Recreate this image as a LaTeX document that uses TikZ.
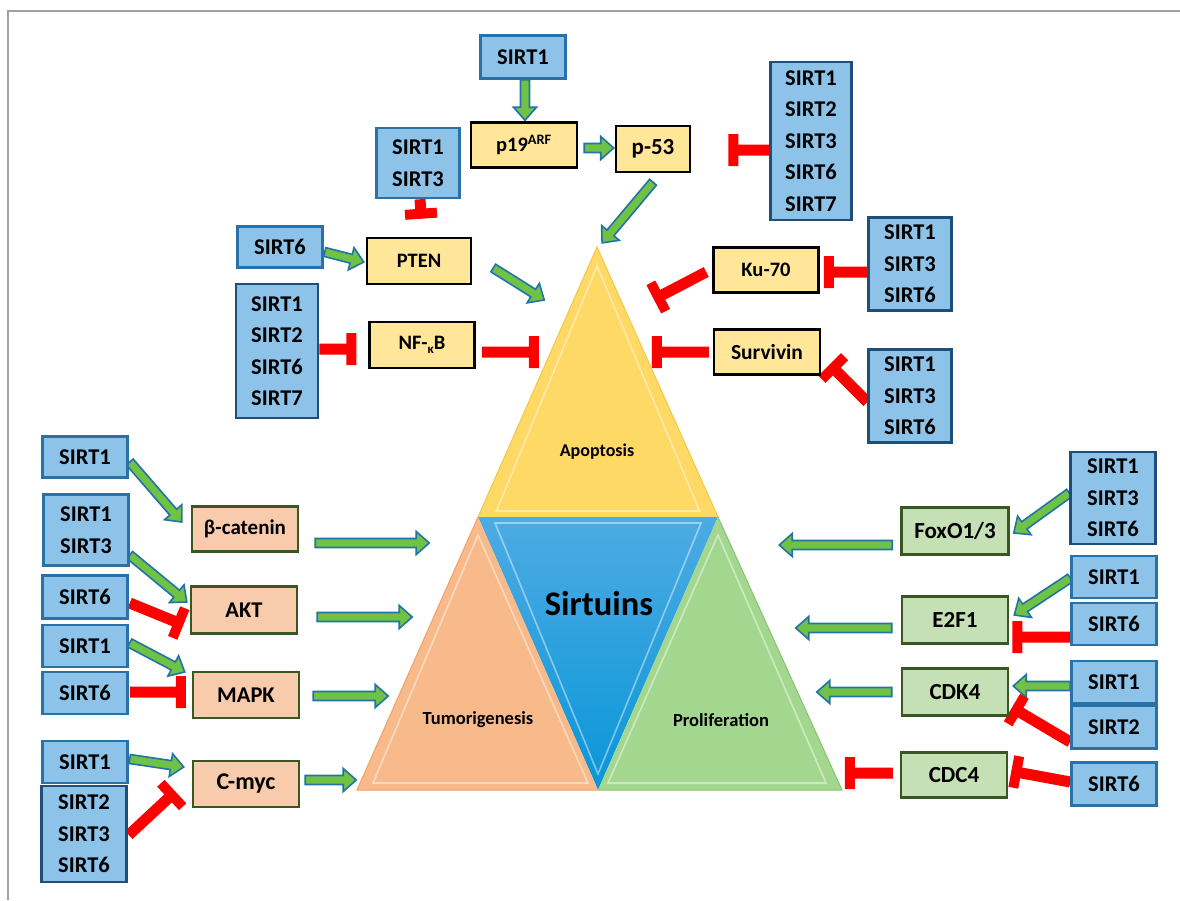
\documentclass[tikz,border=0pt]{standalone}
\usepackage{fontspec}
\setmainfont{Carlito}
\usetikzlibrary{calc}
\definecolor{sfill}{HTML}{8DC3E9}
\definecolor{sbord}{HTML}{2A71A8}
\definecolor{sbordd}{HTML}{1F4E79}
\definecolor{yfill}{HTML}{FFE699}
\definecolor{ofill}{HTML}{F8CBAD}
\definecolor{gfill}{HTML}{C5E0B4}
\definecolor{dgreen}{HTML}{385723}
\definecolor{arrgreen}{HTML}{70C244}
\definecolor{arrblue}{HTML}{2273A8}
\definecolor{inhred}{HTML}{FF0000}
\definecolor{tyel}{HTML}{FFD966}
\definecolor{tyelE}{HTML}{F5C843}
\definecolor{tblueT}{HTML}{4EABE3}
\definecolor{tblueB}{HTML}{0896D8}
\definecolor{torange}{HTML}{F8BA8B}
\definecolor{torangeE}{HTML}{F1A06A}
\definecolor{tgreen}{HTML}{A3D78F}
\definecolor{tgreenE}{HTML}{86C56F}
\definecolor{framegray}{HTML}{A0A0A0}
\newcommand\sirtfont{\fontsize{22.5}{31.5}\selectfont\bfseries}
\newcommand\boxfont{\fontsize{20.5}{24}\selectfont\bfseries}
\newcommand\fsz[1]{\fontsize{#1}{#1}\selectfont\bfseries}
\pgfdeclarelayer{bg}
\pgfsetlayers{bg,main}
\tikzset{
  sirt/.style={draw=sbord, fill=sfill, line width=2.5pt, font=\sirtfont, align=center, inner sep=0pt},
  sirtd/.style={sirt, draw=sbordd},
  ybox/.style={draw=black, fill=yfill, line width=2.5pt, font=\boxfont, inner sep=0pt},
  obox/.style={draw=dgreen, fill=ofill, line width=2.5pt, font=\fsz{22.5}, inner sep=0pt},
  gbox/.style={draw=dgreen, fill=gfill, line width=2.5pt, font=\fsz{23}, inner sep=0pt},
  sz/.style 2 args={minimum width=#1, minimum height=#2},
  tlabel/.style={font=\fsz{18.5}, inner sep=0pt},
  bevel/.style={draw=white, draw opacity=.45, line width=1.6pt},
}
% block arrow: green with blue outline
\newcommand\barr[2]{%
  \path[draw=arrblue, fill=arrgreen, line width=1.6pt, line join=miter]
    let \p1=#1, \p2=#2, \n1={atan2(\y2-\y1,\x2-\x1)}, \n2={veclen(\x2-\x1,\y2-\y1)} in
    [shift={(\p1)}, rotate=\n1]
    (0pt,-4.5pt) -- ({\n2*1pt-13pt},-4.5pt) -- ({\n2*1pt-13pt},-11.5pt) -- ({\n2*1pt},0pt)
    -- ({\n2*1pt-13pt},11.5pt) -- ({\n2*1pt-13pt},4.5pt) -- (0pt,4.5pt) -- cycle;}
% inhibition: red bar with T end
\newcommand\inh[2]{%
  \path[fill=inhred]
    let \p1=#1, \p2=#2, \n1={atan2(\y2-\y1,\x2-\x1)}, \n2={veclen(\x2-\x1,\y2-\y1)} in
    [shift={(\p1)}, rotate=\n1]
    (0pt,-5.5pt) rectangle ({\n2*1pt},5.5pt)
    ({\n2*1pt-5pt},-16pt) rectangle ({\n2*1pt+5pt},16pt);}
\begin{document}
\begin{tikzpicture}[x=1pt,y=-1pt]
\useasboundingbox (0,0) rectangle (1180,900);

% ---------- triangles ----------
\coordinate (apex) at (597,247);
\coordinate (tl) at (478,517);
\coordinate (tr) at (718,517);
\coordinate (bm) at (598,790);
\coordinate (bl) at (357,790);
\coordinate (br) at (842,790);
\begin{pgfonlayer}{bg}
\fill[white] (0,0) rectangle (1180,900);
\draw[framegray, line width=2pt] (1180,11) -- (8,11) -- (8,900);
\fill[tyel] (apex) -- (tr) -- (tl) -- cycle;
\draw[tyelE, line width=1pt] (tl) -- (apex) -- (tr);
\shade[top color=tblueT, bottom color=tblueB] (tl) -- (tr) -- (bm) -- cycle;
\fill[torange] (tl) -- (bm) -- (bl) -- cycle;
\draw[torangeE, line width=1pt] (tl) -- (bl) -- (bm);
\fill[tgreen] (tr) -- (br) -- (bm) -- cycle;
\draw[tgreenE, line width=1pt] (tr) -- (br) -- (bm);
\draw[bevel] ($(apex)!.07!($(tl)!.5!(tr)$)$) -- ($(tl)!.06!(tr)+(4,-6)$) -- ($(tr)!.06!(tl)+(-4,-6)$) -- cycle;
\draw[bevel] ($(tl)!.05!(tr)+(5,6)$) -- ($(tr)!.05!(tl)+(-5,6)$) -- ($(bm)+(0,-16)$) -- cycle;
\draw[bevel] ($(tl)+(0,18)$) -- ($(bm)+(-10,-7)$) -- ($(bl)+(16,-7)$) -- cycle;
\draw[bevel] ($(tr)+(0,18)$) -- ($(br)+(-16,-7)$) -- ($(bm)+(10,-7)$) -- cycle;
\end{pgfonlayer}
\node[tlabel, font=\fsz{18}] (lapop) at (597,452) {Apoptosis};
\node[tlabel, font=\fsz{34.5}] (lsirt) at (599,604) {Sirtuins};
\node[tlabel] (ltum) at (478,720) {Tumorigenesis};
\node[tlabel] (lpro) at (721,720) {Proliferation};

% ---------- top / apoptosis ----------
\node[sirt, sz={85}{43}] (sA) at (523,57) {SIRT1};
\node[ybox, sz={106}{45}] (p19) at (524,145) {p19\textsuperscript{ARF}};
\node[ybox, font=\fsz{23}, sz={74}{46}] (p53) at (653,149) {p-53};
\node[sirtd, sz={81}{158}] (sB) at (811,141) {SIRT1\\SIRT2\\SIRT3\\SIRT6\\SIRT7};
\node[sirt, sz={83}{70}] (sC) at (418,163) {SIRT1\\SIRT3};
\node[ybox, sz={104}{46}] (pten) at (419,261) {PTEN};
\node[sirt, sz={85}{41}] (sD) at (280,247) {SIRT6};
\node[sirtd, sz={82}{134}] (sE) at (277,351) {SIRT1\\SIRT2\\SIRT6\\SIRT7};
\node[ybox, sz={105}{46}] (nfkb) at (422,345) {NF-\raisebox{-4pt}{\fontsize{13}{13}\selectfont κ}B};
\node[ybox, sz={105}{45}] (ku) at (766,270) {Ku-70};
\node[sirtd, sz={83}{93}] (sF) at (910,264) {SIRT1\\SIRT3\\SIRT6};
\node[ybox, font=\fsz{21.5}, sz={106}{45}] (surv) at (767,352) {Survivin};
\node[sirtd, sz={83}{93}] (sG) at (910,396) {SIRT1\\SIRT3\\SIRT6};

% ---------- left / tumorigenesis ----------
\node[sirt, sz={85}{41}] (sH) at (85,457) {SIRT1};
\node[obox, font=\fsz{21}, sz={106}{45}] (bcat) at (245,529) {β-catenin};
\node[sirt, sz={85}{71}] (sI) at (86,530) {SIRT1\\SIRT3};
\node[sirt, sz={85}{43}] (sJ) at (85,597) {SIRT6};
\node[obox, sz={106}{47}] (akt) at (244,610) {AKT};
\node[sirt, sz={85}{42}] (sK) at (85,646) {SIRT1};
\node[sirt, sz={85}{42}] (sL) at (85,693) {SIRT6};
\node[obox, sz={106}{46}] (mapk) at (246,695) {MAPK};
\node[sirt, sz={85}{42}] (sM) at (85,762) {SIRT1};
\node[sirtd, sz={85}{96}] (sN) at (84,834) {SIRT2\\SIRT3\\SIRT6};
\node[obox, font=\fsz{24}, sz={106}{46}] (cmyc) at (246,784) {C-myc};

% ---------- right / proliferation ----------
\node[sirtd, sz={85}{92}] (sO) at (1113,498) {SIRT1\\SIRT3\\SIRT6};
\node[gbox, sz={107}{47}] (foxo) at (955,531) {FoxO1/3};
\node[sirt, sz={85}{42}] (sP) at (1114,577) {SIRT1};
\node[sirt, sz={85}{42}] (sQ) at (1114,624) {SIRT6};
\node[gbox, sz={106}{47}] (e2f1) at (955,620) {E2F1};
\node[sirt, sz={85}{42}] (sR) at (1114,682) {SIRT1};
\node[sirt, sz={85}{43}] (sS) at (1114,727) {SIRT2};
\node[gbox, sz={106}{47}] (cdk4) at (955,692) {CDK4};
\node[sirt, sz={85}{43}] (sT) at (1114,784) {SIRT6};
\node[gbox, sz={106}{45}] (cdc4) at (954,775) {CDC4};

% ---------- connectors ----------
\begin{pgfonlayer}{bg}
% activations
\barr{($(sA.south)+(2,0)$)}{($(p19.north)+(1,-1)$)}
\barr{($(p19.east)+(6,3)$)}{($(p53.west)+(-1,-1)$)}
\barr{($(p53.south)+(0,9)$)}{($(apex)+(5,-4)$)}
\barr{($(sD.east)+(1,5)$)}{($(pten.west)+(-2,1)$)}
\barr{($(pten.east)+(21,7)$)}{($(pten.east)+(72,39)$)}
\barr{($(sH.east)+(1,5)$)}{($(bcat.west)+(-9,-7)$)}
\barr{($(bcat.east)+(16,14)$)}{($(bcat.east)+(130,14)$)}
\barr{($(sI.east)+(0,25)$)}{($(akt.west)+(-3,-8)$)}
\barr{($(akt.east)+(19,7)$)}{($(akt.east)+(114,7)$)}
\barr{($(sK.east)+(1,-3)$)}{($(mapk.west)+(-7,-23)$)}
\barr{($(mapk.east)+(13,1)$)}{($(mapk.east)+(88,1)$)}
\barr{($(sM.east)+(1,-3)$)}{($(cmyc.west)+(-8,-17)$)}
\barr{($(cmyc.east)+(5,-4)$)}{($(cmyc.east)+(56,-4)$)}
\barr{($(sO.west)+(0,-5)$)}{($(foxo.east)+(4,2)$)}
\barr{($(foxo.west)+(-8,14)$)}{($(foxo.west)+(-121,14)$)}
\barr{($(sP.west)+(0,1)$)}{($(e2f1.east)+(5,-5)$)}
\barr{($(e2f1.west)+(-9,8)$)}{($(e2f1.west)+(-105,8)$)}
\barr{($(sR.west)+(0,4)$)}{($(cdk4.east)+(4,-6)$)}
\barr{($(cdk4.west)+(-9,0)$)}{($(cdk4.west)+(-84,0)$)}
% inhibitions
\inh{($(sC.south)+(2,0)$)}{($(pten.north)+(2,-23)$)}
\inh{($(sB.west)+(0,9)$)}{($(p53.east)+(42,1)$)}
\inh{($(sE.east)+(0,-2)$)}{($(nfkb.west)+(-17,4)$)}
\inh{($(nfkb.east)+(6,7)$)}{($(nfkb.east)+(58,7)$)}
\inh{($(sF.west)+(0,8)$)}{($(ku.east)+(9,2)$)}
\inh{($(ku.west)+(-6,2)$)}{($(ku.west)+(-54,27)$)}
\inh{($(surv.west)+(-4,0)$)}{($(surv.west)+(-56,0)$)}
\inh{($(sG.west)+(0,6)$)}{($(surv.east)+(12,16)$)}
\inh{($(sJ.east)+(1,6)$)}{($(akt.west)+(-11,13)$)}
\inh{($(sL.east)+(1,-1)$)}{($(mapk.west)+(-11,-3)$)}
\inh{($(sN.east)+(1,1)$)}{($(cmyc.west)+(-20,11)$)}
\inh{($(sQ.west)+(0,13)$)}{($(e2f1.east)+(8,17)$)}
\inh{($(sS.west)+(0,15)$)}{($(cdk4.east)+(7,18)$)}
\inh{($(sT.west)+(0,-2)$)}{($(cdc4.east)+(8,-3)$)}
\inh{($(cdc4.west)+(-7,-2)$)}{($(cdc4.west)+(-50,-2)$)}
\end{pgfonlayer}
\end{tikzpicture}
\end{document}
